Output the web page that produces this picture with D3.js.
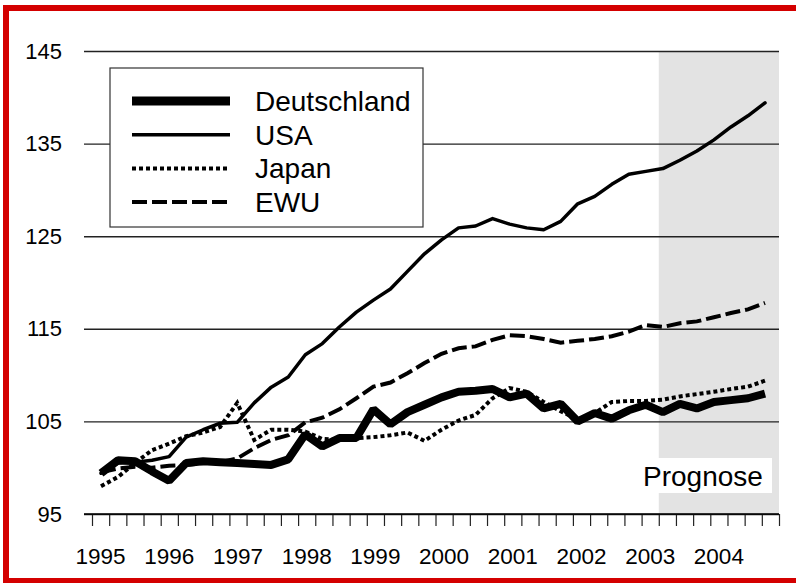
<!DOCTYPE html>
<html>
<head>
<meta charset="utf-8">
<script src="https://cdn.jsdelivr.net/npm/d3@7"></script>
<style>
  body { margin: 0; background: #fff; }
  svg { display: block; font-family: "Liberation Sans", Arial, sans-serif; }
</style>
</head>
<body>
<div id="chart"></div>
<script>
// quarterly values, 1995 Q1 .. 2004 Q4
const years = ['1995', '1996', '1997', '1998', '1999', '2000', '2001', '2002', '2003', '2004'];
const yTicks = [95, 105, 115, 125, 135, 145];

const deutschland = [99.4, 100.8, 100.7, 99.6, 98.6, 100.5, 100.7, 100.6, 100.5, 100.4,
  100.3, 100.9, 103.6, 102.3, 103.2, 103.2, 106.3, 104.7, 106.0, 106.8,
  107.6, 108.2, 108.3, 108.5, 107.6, 108.0, 106.4, 106.9, 105.0, 105.9,
  105.3, 106.2, 106.8, 106.0, 106.9, 106.4, 107.1, 107.3, 107.5, 108.0];
const usa = [99.4, 100.5, 100.6, 100.8, 101.2, 103.3, 104.1, 104.8, 104.9, 107.0,
  108.7, 109.8, 112.2, 113.4, 115.2, 116.8, 118.1, 119.3, 121.2, 123.1,
  124.6, 125.9, 126.1, 126.9, 126.3, 125.9, 125.7, 126.6, 128.5, 129.3,
  130.6, 131.7, 132.0, 132.3, 133.2, 134.2, 135.4, 136.8, 138.0, 139.4];
const japan = [98.0, 99.0, 100.5, 101.9, 102.6, 103.4, 103.8, 104.4, 107.0, 103.0,
  104.1, 104.1, 103.9, 103.1, 103.0, 103.2, 103.3, 103.5, 103.8, 102.9,
  104.1, 105.1, 105.7, 107.5, 108.6, 108.2, 107.1, 106.1, 105.2, 105.9,
  107.1, 107.2, 107.2, 107.35, 107.7, 107.95, 108.2, 108.5, 108.75, 109.4];
const ewu = [99.5, 99.9, 100.1, 100.0, 100.2, 100.3, 100.5, 100.6, 101.0, 102.1,
  103.0, 103.5, 104.9, 105.4, 106.3, 107.5, 108.75, 109.2, 110.2, 111.3,
  112.3, 112.9, 113.1, 113.8, 114.3, 114.2, 113.9, 113.5, 113.7, 113.9,
  114.2, 114.7, 115.4, 115.2, 115.6, 115.8, 116.25, 116.7, 117.1, 117.8];
const seriesNames = ['Deutschland', 'USA', 'Japan', 'EWU'];
const forecastStart = 33; // first forecast quarter (2003 Q2)

const width = 796, height = 583;
const plot = { left: 92, right: 779, top: 51, bottom: 514 };

const svg = d3.select('#chart').append('svg')
  .attr('width', width)
  .attr('height', height);

// red frame, open to the right
svg.append('rect')
  .attr('x', 6).attr('y', 8)
  .attr('width', 820).attr('height', 573)
  .attr('fill', '#fff')
  .attr('stroke', '#d40000')
  .attr('stroke-width', 6);

const nQ = years.length * 4;
const xQ = d3.scaleLinear().domain([0, nQ]).range([plot.left, plot.right]);
const x = d3.scaleLinear().domain([0, nQ - 1]).range([101, 765]);
const y = d3.scaleLinear().domain([95, 145]).range([plot.bottom, plot.top]);

// forecast shading
svg.append('rect')
  .attr('x', xQ(forecastStart))
  .attr('y', y(145))
  .attr('width', xQ(nQ) - xQ(forecastStart))
  .attr('height', y(95) - y(145))
  .attr('fill', '#e3e3e3');

// horizontal grid + y labels
const yAxis = svg.append('g')
  .attr('transform', 'translate(' + plot.right + ',0)')
  .call(d3.axisLeft(y).tickValues(yTicks).tickSize(plot.right - 84).tickPadding(22).tickFormat(d3.format('d')));
yAxis.select('.domain').remove();
yAxis.selectAll('.tick line').attr('stroke', '#222').attr('stroke-width', 1.4);
yAxis.selectAll('.tick text')
  .attr('font-size', 22)
  .attr('fill', '#000');

// x axis: quarter ticks, year labels
const xAxis = svg.append('g')
  .attr('transform', 'translate(0,' + plot.bottom + ')')
  .call(d3.axisBottom(xQ).tickValues(d3.range(0, nQ + 1)).tickSize(12).tickFormat(''));
xAxis.select('.domain').remove();
xAxis.selectAll('.tick line').attr('stroke', '#222').attr('stroke-width', 1.2);
xAxis.append('line')
  .attr('x1', 84).attr('x2', plot.right)
  .attr('stroke', '#000').attr('stroke-width', 1.6);

svg.append('g').selectAll('text')
  .data(years)
  .enter().append('text')
  .attr('x', (d, i) => xQ(i * 4 + 0.5))
  .attr('y', 564)
  .attr('text-anchor', 'middle')
  .attr('font-size', 22.5)
  .text(d => d);

// lines
const styles = [
  { data: deutschland, width: 8, dash: null, cap: 'butt', join: 'bevel' },
  { data: usa, width: 3.5, dash: null, cap: 'round', join: 'round' },
  { data: japan, width: 4, dash: '4,3', cap: 'butt', join: 'miter' },
  { data: ewu, width: 4, dash: '15,5', cap: 'butt', join: 'miter' }
];

const line = d3.line()
  .x((d, i) => x(i))
  .y(d => y(d));

// draw order: thinner series over the thick one
[0, 3, 2, 1].forEach(k => {
  const s = styles[k];
  svg.append('path')
    .datum(s.data)
    .attr('class', 'line')
    .attr('d', line)
    .attr('fill', 'none')
    .attr('stroke', '#000')
    .attr('stroke-width', s.width)
    .attr('stroke-linecap', s.cap)
    .attr('stroke-linejoin', s.join)
    .attr('stroke-dasharray', s.dash);
});

// legend
const legend = svg.append('g').attr('transform', 'translate(110,68)');
legend.append('rect')
  .attr('width', 313).attr('height', 159)
  .attr('fill', '#fff')
  .attr('stroke', '#333')
  .attr('stroke-width', 1.2);

const rows = legend.selectAll('.row')
  .data(seriesNames)
  .enter().append('g')
  .attr('class', 'row')
  .attr('transform', (d, i) => 'translate(0,' + (33 + i * 33.7) + ')');

rows.append('line')
  .attr('x1', 22).attr('x2', 120)
  .attr('stroke', '#000')
  .attr('stroke-width', (d, i) => styles[i].width + (i === 0 ? 1 : 0))
  .attr('stroke-dasharray', (d, i) => styles[i].dash);

rows.append('text')
  .attr('x', 145)
  .attr('dy', '0.35em')
  .attr('font-size', 28)
  .text(d => d);

// Prognose label
svg.append('rect')
  .attr('x', 637).attr('y', 458)
  .attr('width', 135).attr('height', 35)
  .attr('fill', '#fff');
svg.append('text')
  .attr('x', 643).attr('y', 486)
  .attr('font-size', 28)
  .text('Prognose');
</script>
</body>
</html>
